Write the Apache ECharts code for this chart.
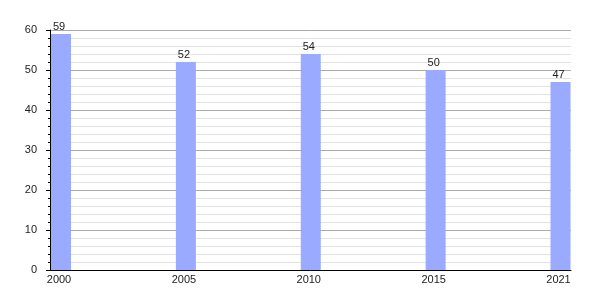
<!DOCTYPE html>
<html>
<head>
<meta charset="utf-8">
<script src="https://cdn.jsdelivr.net/npm/echarts@6/dist/echarts.min.js"></script>
<style>html,body{margin:0;padding:0;background:#fff}#c{width:600px;height:300px}</style>
</head>
<body>
<div id="c"></div>
<script>
const years = ['2000', '2005', '2010', '2015', '2021'];
const values = [59, 52, 54, 50, 47];
const yTicks = [0, 10, 20, 30, 40, 50, 60];

const font = 'Liberation Sans, Arial, sans-serif';
const chart = echarts.init(document.getElementById('c'), null, {renderer: 'canvas'});
chart.setOption({
  animation: false,
  backgroundColor: '#fff',
  grid: [
    {left: 50, right: 29, top: 30, bottom: 30},
    {left: 61, right: 39.5, top: 30, bottom: 30}
  ],
  xAxis: [
    {gridIndex: 0, type: 'value', min: 0, max: 1,
     axisLine: {show: true, onZero: false, lineStyle: {color: '#000', width: 1}},
     axisTick: {show: false}, axisLabel: {show: false}, splitLine: {show: false}},
    {gridIndex: 1, type: 'category', data: years, boundaryGap: false,
     axisLine: {show: false}, axisTick: {show: false}, splitLine: {show: false},
     axisLabel: {show: true, margin: 4, fontSize: 11, fontFamily: font, color: '#222', padding: [0, 4, 0, 0],
                 interval: 0}}
  ],
  yAxis: [
    {gridIndex: 0, type: 'value', min: yTicks[0], max: yTicks[yTicks.length - 1], interval: 10,
     axisLine: {show: true, lineStyle: {color: '#000', width: 1}},
     axisTick: {show: true, length: 4, lineStyle: {color: '#000'}},
     minorTick: {show: true, splitNumber: 5, length: 2, lineStyle: {color: '#000'}},
     splitLine: {show: true, lineStyle: {color: '#aaaaaa', width: 1}},
     minorSplitLine: {show: true, lineStyle: {color: '#e2e2e2', width: 1}},
     axisLabel: {margin: 13, fontSize: 11, fontFamily: font, color: '#222'}},
    {gridIndex: 1, type: 'value', min: yTicks[0], max: yTicks[yTicks.length - 1],
     show: false, splitLine: {show: false}}
  ],
  series: [{
    type: 'bar', xAxisIndex: 1, yAxisIndex: 1,
    data: values, barWidth: 20,
    itemStyle: {color: '#99aaff'},
    label: {show: true, position: 'top', distance: 2, offset: [-2, 0],
            fontSize: 11, fontFamily: font, color: '#222'}
  }]
});
</script>
</body>
</html>
